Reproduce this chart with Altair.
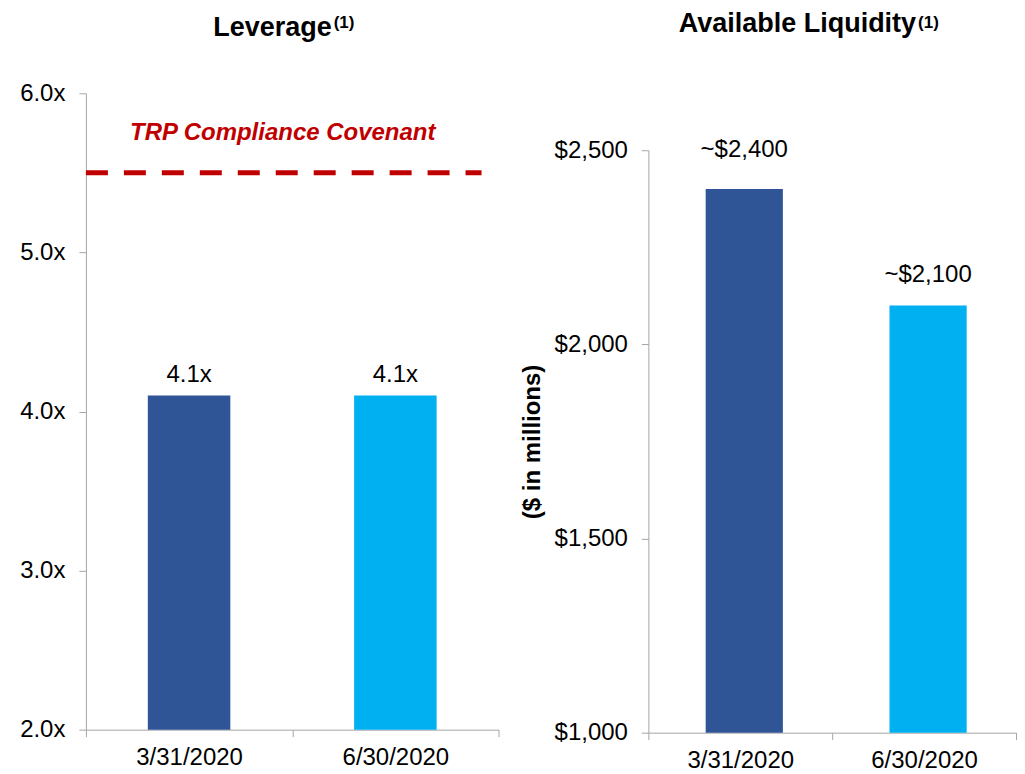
import altair as alt
import pandas as pd

# ---- data ----
dates = ["3/31/2020", "6/30/2020"]
leverage = [4.1, 4.1]
liquidity = [2400, 2100]
covenant = [5.5]
covenant_label = ["TRP Compliance Covenant"]
lev_ticks = [2, 3, 4, 5, 6]
liq_ticks = [1000, 1500, 2000, 2500]
titles = ["Leverage", "Available Liquidity"]
footnote = ["(1)"]
bar_colors = ["#2F5597", "#00B0F0"]

FONT = "Liberation Sans"
AX = "#A6A6A6"
RED = "#C00000"
FS = 24

lev_df = pd.DataFrame({"date": dates, "value": leverage})
liq_df = pd.DataFrame({"date": dates, "value": liquidity})
cov_df = pd.DataFrame({"value": covenant, "label": covenant_label})
lev_title_df = pd.DataFrame({"t": [titles[0]], "s": footnote})
liq_title_df = pd.DataFrame({"t": [titles[1]], "s": footnote})

color = alt.Color("date:N", scale=alt.Scale(domain=dates, range=bar_colors), legend=None)

x_axis = alt.Axis(
    title=None, labelAngle=0, labelFontSize=FS, labelColor="black",
    labelFont=FONT, tickBand="extent", tickSize=7, tickColor=AX,
    domainColor=AX, labelPadding=9,
)


def x_enc():
    return alt.X(
        "date:N", sort=dates,
        scale=alt.Scale(paddingInner=0, paddingOuter=0),
        axis=x_axis,
    )


LEV_H = 637
LIQ_H = 640
LIQ_TOP = 57
LIQ_W = 368
LIQ_SHIFT = 4

lev_axis = alt.Axis(
    values=lev_ticks, labelExpr="format(datum.value, '.1f') + 'x'",
    title=None, grid=False, tickSize=7, tickColor=AX, domainColor=AX,
    labelPadding=14, labelFontSize=FS, labelColor="black", labelFont=FONT,
)
liq_axis = alt.Axis(
    values=liq_ticks, labelExpr="'$' + format(datum.value, ',')",
    title="($ in millions)", titleFontSize=FS, titleFont=FONT,
    titleFontWeight="bold", titleColor="black", titlePadding=10,
    grid=False, tickSize=7, tickColor=AX, domainColor=AX,
    labelPadding=14, labelFontSize=FS, labelColor="black", labelFont=FONT,
)


def lev_y():
    return alt.Y("value:Q", scale=alt.Scale(domain=[2, 6], nice=False, zero=False), axis=lev_axis)


def liq_y():
    return alt.Y(
        "value:Q",
        scale=alt.Scale(domain=[1000, 2500], nice=False, zero=False, range=[LIQ_H, LIQ_TOP]),
        axis=liq_axis,
    )


# ---- left panel ----
lev_bars = alt.Chart(lev_df).mark_bar(width=alt.RelativeBandSize(0.4), clip=True).encode(
    x=x_enc(), y=lev_y(), color=color
)
lev_labels = alt.Chart(lev_df).transform_calculate(
    lab="format(datum.value, '.1f') + 'x'"
).mark_text(fontSize=FS, font=FONT, color="black", dy=-14, baseline="alphabetic").encode(
    x=x_enc(), y=lev_y(), text="lab:N"
)
cov_rule = alt.Chart(cov_df).mark_rule(color=RED, strokeWidth=5, strokeDash=[22, 16]).encode(
    y=lev_y(), x=alt.value(0), x2=alt.value(396)
)
cov_text = alt.Chart(cov_df).mark_text(
    fontSize=FS, font=FONT, fontWeight="bold", fontStyle="italic", color=RED,
    baseline="middle", align="center",
).encode(x=alt.value(197), y=alt.value(40), text="label:N")
lev_title = alt.Chart(lev_title_df).mark_text(
    fontSize=27, font=FONT, fontWeight="bold", color="black", align="right", baseline="alphabetic"
).encode(x=alt.value(246), y=alt.value(-57), text="t:N")
lev_sup = alt.Chart(lev_title_df).mark_text(
    fontSize=17, font=FONT, fontWeight="bold", color="black", align="left", baseline="alphabetic"
).encode(x=alt.value(248), y=alt.value(-65), text="s:N")

left = alt.layer(lev_bars, lev_labels, cov_rule, cov_text, lev_title, lev_sup).properties(
    width=413, height=LEV_H
)

# ---- right panel ----
liq_bars = alt.Chart(liq_df).mark_bar(
    width=alt.RelativeBandSize(0.42), clip=True, xOffset=LIQ_SHIFT
).encode(x=x_enc(), y=liq_y(), color=color)
liq_lab_expr = "'~$' + format(datum.value, ',')"
liq_label1 = alt.Chart(liq_df).transform_filter(
    alt.datum.date == dates[0]
).transform_calculate(lab=liq_lab_expr).mark_text(
    fontSize=FS, font=FONT, color="black", dy=-32, dx=LIQ_SHIFT, baseline="alphabetic"
).encode(x=x_enc(), y=liq_y(), text="lab:N")
liq_label2 = alt.Chart(liq_df).transform_filter(
    alt.datum.date == dates[1]
).transform_calculate(lab=liq_lab_expr).mark_text(
    fontSize=FS, font=FONT, color="black", dy=-24, dx=LIQ_SHIFT, baseline="alphabetic"
).encode(x=x_enc(), y=liq_y(), text="lab:N")
liq_title = alt.Chart(liq_title_df).mark_text(
    fontSize=27, font=FONT, fontWeight="bold", color="black", align="right", baseline="alphabetic"
).encode(x=alt.value(268), y=alt.value(-61), text="t:N")
liq_sup = alt.Chart(liq_title_df).mark_text(
    fontSize=17, font=FONT, fontWeight="bold", color="black", align="left", baseline="alphabetic"
).encode(x=alt.value(270), y=alt.value(-65), text="s:N")

right = alt.layer(liq_bars, liq_label1, liq_label2, liq_title, liq_sup).properties(
    width=LIQ_W, height=LIQ_H
)

chart = alt.hconcat(left, right, spacing=20).properties(
    padding={"left": 11, "top": 2, "right": 0, "bottom": 0}
).configure(font=FONT).configure_view(strokeWidth=0, stroke="transparent")

chart.save("out.html", embed_options={"renderer": "svg", "actions": False})
